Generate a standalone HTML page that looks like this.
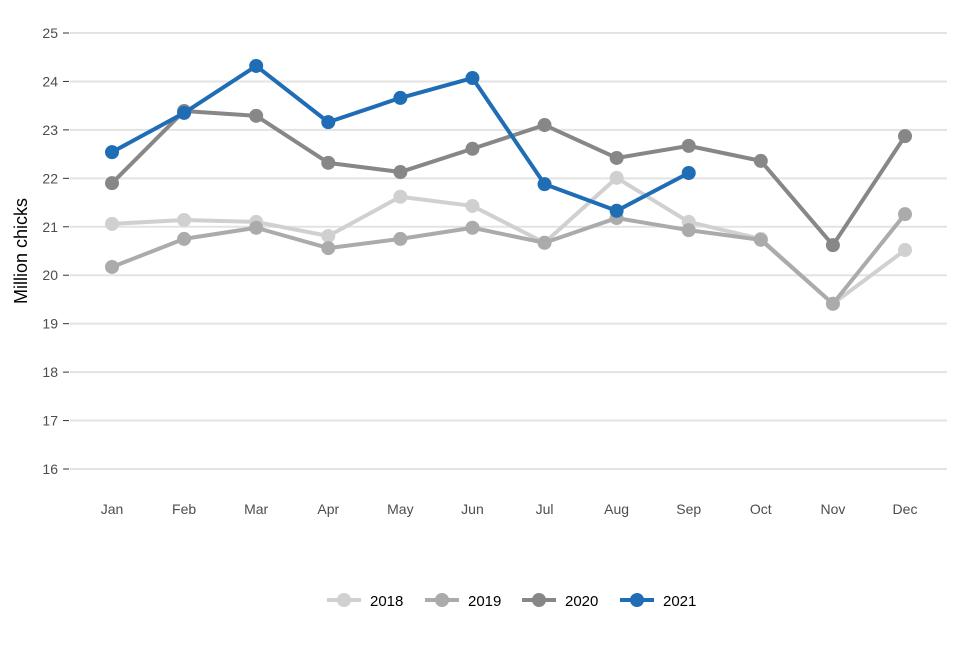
<!DOCTYPE html>
<html><head><meta charset="utf-8"><style>
body{margin:0;background:#fff;font-family:"Liberation Sans",Arial,sans-serif}
svg text{font-family:"Liberation Sans",Arial,sans-serif}
</style></head><body>
<svg id="chart" width="960" height="640" viewBox="0 0 960 640" xmlns="http://www.w3.org/2000/svg">
<g id="grid"></g>
<g id="yaxis"></g>
<g id="xaxis"></g>
<text x="27" y="251" transform="rotate(-90 27 251)" text-anchor="middle" font-size="18" fill="#000">Million chicks</text>
<g id="series"></g>
<g id="legend"></g>
</svg>
<script>
const months=["Jan","Feb","Mar","Apr","May","Jun","Jul","Aug","Sep","Oct","Nov","Dec"];
const yTicks=[16,17,18,19,20,21,22,23,24,25];
const seriesNames=["2018","2019","2020","2021"];
const v2018=[21.06,21.14,21.10,20.81,21.62,21.43,20.67,22.01,21.10,20.75,19.41,20.52];
const v2019=[20.17,20.75,20.98,20.56,20.75,20.98,20.67,21.18,20.93,20.73,19.41,21.26];
const v2020=[21.90,23.39,23.29,22.32,22.13,22.61,23.10,22.42,22.67,22.36,20.62,22.87];
const v2021=[22.54,23.35,24.32,23.16,23.66,24.07,21.88,21.33,22.11];
const colors=["#d0d0d0","#ababab","#878787","#1f6db5"];
const NS="http://www.w3.org/2000/svg";
const y=v=>469-(v-16)*(436/9);
const x=i=>112+i*(793/11);
function mk(t,a,p){const e=document.createElementNS(NS,t);for(const k in a)e.setAttribute(k,a[k]);p.appendChild(e);return e;}
const grid=document.getElementById('grid'),ya=document.getElementById('yaxis'),xa=document.getElementById('xaxis');
yTicks.forEach(t=>{
 const l=mk('line',{x1:70,x2:947,y1:y(t),y2:y(t),stroke:'#e3e3e3','stroke-width':2},grid);
 
 
 mk('line',{x1:63,x2:69,y1:y(t),y2:y(t),stroke:'#333','stroke-width':1},ya);
 const tx=mk('text',{x:58,y:y(t)+5,'text-anchor':'end','font-size':14,fill:'#4d4d4d'},ya);
 tx.textContent=t;
 
 
});
months.forEach((m,i)=>{
 const tx=mk('text',{x:x(i),y:514,'text-anchor':'middle','font-size':14,fill:'#4d4d4d'},xa);
 tx.textContent=m;
 
 
});
const ser=document.getElementById('series');
[v2018,v2019,v2020,v2021].forEach((vals,s)=>{
 const g=mk('g',{},ser);
 
 
 mk('polyline',{points:vals.map((v,i)=>x(i)+','+y(v)).join(' '),fill:'none',stroke:colors[s],'stroke-width':4,'stroke-linejoin':'round'},g);
 vals.forEach((v,i)=>{
  const c=mk('circle',{cx:x(i),cy:y(v),r:7,fill:colors[s]},g);
  
  
 });
});
const lg=document.getElementById('legend');
const lx=[327,425,522,620];
seriesNames.forEach((n,s)=>{
 const g=mk('g',{},lg);
 
 
 mk('line',{x1:lx[s],x2:lx[s]+34,y1:600,y2:600,stroke:colors[s],'stroke-width':4},g);
 mk('circle',{cx:lx[s]+17,cy:600,r:7,fill:colors[s]},g);
 const t=mk('text',{x:lx[s]+43,y:606,'font-size':15,fill:'#000'},g);
 t.textContent=n;
});
</script>
</body></html>
